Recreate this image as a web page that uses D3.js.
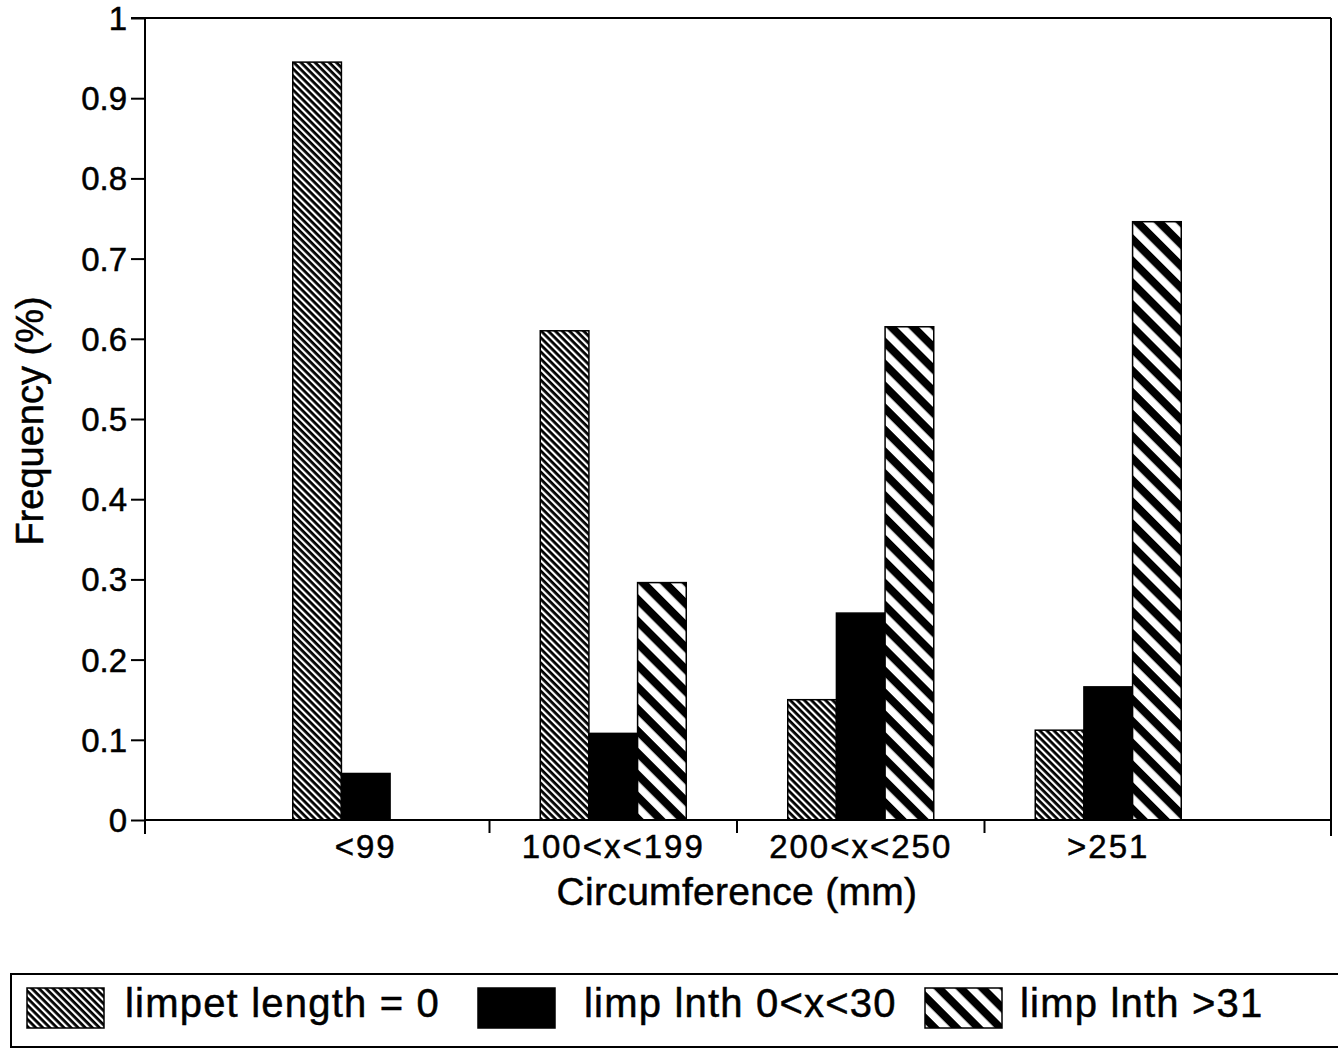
<!DOCTYPE html>
<html><head><meta charset="utf-8">
<script src="https://cdn.jsdelivr.net/npm/d3@7"></script>
<style>
html,body{margin:0;padding:0;background:#fff;}
svg{display:block;}
text{font-family:"Liberation Sans",Arial,Helvetica,sans-serif;fill:#000;stroke:#000;stroke-width:0.5px;}
</style></head>
<body><svg id="chart" width="1338" height="1051"></svg>
<script>
const categories = ["<99", "100<x<199", "200<x<250", ">251"];
const seriesNames = ["limpet length = 0", "limp lnth 0<x<30", "limp lnth >31"];
const limpetZero = [0.945, 0.61, 0.15, 0.112];
const limpSmall = [0.058, 0.108, 0.258, 0.166];
const limpLarge = [0.0, 0.296, 0.615, 0.746];
const yTicks = [0, 0.1, 0.2, 0.3, 0.4, 0.5, 0.6, 0.7, 0.8, 0.9, 1];
const yTickLabels = ["0", "0.1", "0.2", "0.3", "0.4", "0.5", "0.6", "0.7", "0.8", "0.9", "1"];
const xTitle = "Circumference (mm)";
const yTitle = "Frequency (%)";

const seriesValues = [limpetZero, limpSmall, limpLarge];
const fills = ["url(#patA)", "#000", "url(#patC)"];

const svg = d3.select("#chart");
const defs = svg.append("defs");
function stripes(id, period, black) {
  const p = defs.append("pattern").attr("id", id)
    .attr("patternUnits", "userSpaceOnUse")
    .attr("width", period).attr("height", period)
    .attr("patternTransform", "rotate(45)");
  p.append("rect").attr("width", period).attr("height", period).attr("fill", "#fff");
  p.append("rect").attr("width", period).attr("height", black).attr("fill", "#000");
}
stripes("patA", 5, 2.8);
stripes("patC", 15.5, 8);

const plotLeft = 145, plotRight = 1331, plotTop = 18, plotBottom = 820;

const y = d3.scaleLinear().domain([0, 1]).range([plotBottom, plotTop]);
const x = d3.scaleBand().domain(categories).range([242, 1232]).paddingInner(0).paddingOuter(0);
const groupW = 146;
const xs = d3.scaleBand().domain(d3.range(seriesNames.length)).range([0, groupW]);

// frame lines (top and right)
svg.append("line").attr("x1", 131).attr("x2", plotRight).attr("y1", plotTop).attr("y2", plotTop)
  .attr("stroke", "#000").attr("stroke-width", 2);
svg.append("line").attr("x1", plotRight).attr("x2", plotRight).attr("y1", plotTop).attr("y2", 836)
  .attr("stroke", "#000").attr("stroke-width", 2);

// bars
const data = [];
categories.forEach((c, i) => seriesValues.forEach((s, j) => data.push({c, j, v: s[i]})));
svg.append("g").selectAll("rect").data(data.filter(d => d.v > 0)).join("rect")
  .attr("x", d => x(d.c) + (x.bandwidth() - groupW) / 2 + xs(d.j))
  .attr("width", xs.bandwidth())
  .attr("y", d => y(d.v))
  .attr("height", d => y(0) - y(d.v))
  .attr("fill", d => fills[d.j])
  .attr("stroke", "#000").attr("stroke-width", 1.5);

// y axis
const yAxis = d3.axisLeft(y).tickValues(yTicks).tickFormat((d, i) => yTickLabels[i]).tickSize(14).tickPadding(4);
const gy = svg.append("g").attr("transform", `translate(${plotLeft},0)`).call(yAxis);
gy.select(".domain").remove();
gy.selectAll(".tick line").attr("stroke", "#000").attr("stroke-width", 2);
gy.selectAll(".tick text").attr("font-size", 33).attr("font-family", "Liberation Sans, Arial, sans-serif").attr("dy", "0.35em");
svg.append("line").attr("x1", plotLeft).attr("x2", plotLeft).attr("y1", plotTop).attr("y2", 834)
  .attr("stroke", "#000").attr("stroke-width", 2);

// x axis
const gx = svg.append("g").attr("transform", `translate(0,${plotBottom})`);
gx.append("line").attr("x1", plotLeft).attr("x2", plotRight).attr("y1", 0).attr("y2", 0)
  .attr("stroke", "#000").attr("stroke-width", 2);
const boundaries = categories.slice(1).map(c => x(c));
gx.selectAll("line.tk").data(boundaries).join("line").attr("class", "tk")
  .attr("x1", d => d).attr("x2", d => d).attr("y1", 0).attr("y2", 13)
  .attr("stroke", "#000").attr("stroke-width", 2);
gx.selectAll("text.lab").data(categories).join("text").attr("class", "lab")
  .attr("x", d => x(d) + x.bandwidth() / 2)
  .attr("y", 38)
  .attr("text-anchor", "middle")
  .attr("font-size", 33).attr("letter-spacing", 2)
  .text(d => d);

// titles
svg.append("text").attr("x", 737).attr("y", 905).attr("text-anchor", "middle")
  .attr("font-size", 39).attr("letter-spacing", 0.3).text(xTitle);
svg.append("text").attr("transform", "translate(43,421) rotate(-90)").attr("text-anchor", "middle")
  .attr("font-size", 38).text(yTitle);

// legend
const lg = svg.append("g");
lg.append("rect").attr("x", 11).attr("y", 974).attr("width", 1340).attr("height", 73)
  .attr("fill", "none").attr("stroke", "#000").attr("stroke-width", 2);
const swX = [27, 478, 925], txX = [125, 584, 1020];
seriesNames.forEach((n, j) => {
  lg.append("rect").attr("x", swX[j]).attr("y", 988).attr("width", 77).attr("height", 40)
    .attr("fill", fills[j]).attr("stroke", "#000").attr("stroke-width", 1.5);
  lg.append("text").attr("x", txX[j]).attr("y", 1017).attr("font-size", 40).attr("letter-spacing", 1.2).text(n);
});
</script></body></html>
